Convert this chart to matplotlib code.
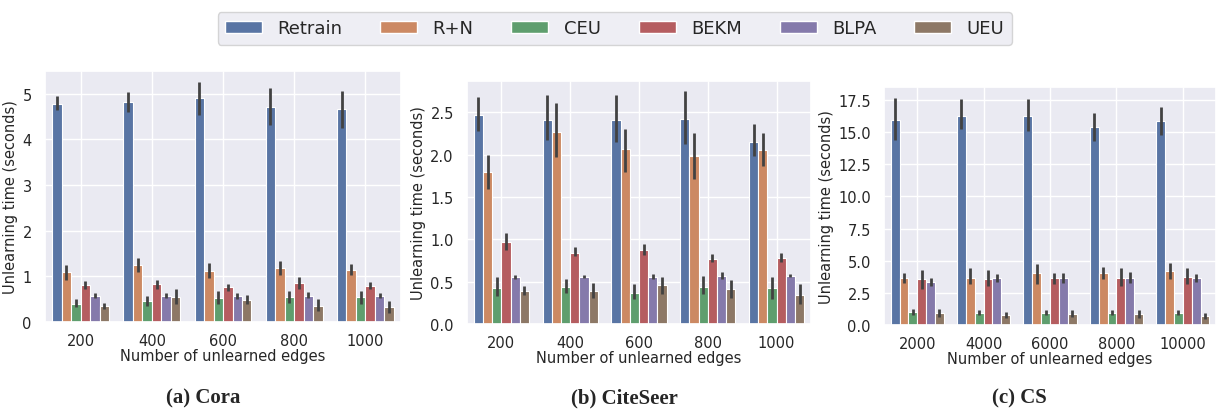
import numpy as np
import matplotlib
matplotlib.use("Agg")
import matplotlib.pyplot as plt
from matplotlib.patches import Patch
import seaborn as sns

sns.set_theme(style="darkgrid")
plt.rcParams['font.family'] = ['DejaVu Sans']

methods = ['Retrain', 'R+N', 'CEU', 'BEKM', 'BLPA', 'UEU']

# Cora: mean time and CI bounds, one row per method
cora_x = ['200', '400', '600', '800', '1000']
cora_mean = [[4.77, 4.81, 4.90, 4.72, 4.66],
             [1.09, 1.24, 1.12, 1.19, 1.15],
             [0.40, 0.45, 0.52, 0.54, 0.54],
             [0.80, 0.83, 0.76, 0.85, 0.79],
             [0.58, 0.58, 0.56, 0.58, 0.58],
             [0.34, 0.54, 0.49, 0.36, 0.33]]
cora_lo = [[4.64, 4.60, 4.54, 4.32, 4.25],
           [0.91, 1.09, 0.97, 1.04, 1.04],
           [0.33, 0.35, 0.39, 0.42, 0.40],
           [0.73, 0.73, 0.68, 0.72, 0.72],
           [0.53, 0.53, 0.50, 0.53, 0.53],
           [0.28, 0.40, 0.39, 0.24, 0.20]]
cora_hi = [[4.95, 5.04, 5.26, 5.13, 5.06],
           [1.24, 1.41, 1.30, 1.34, 1.26],
           [0.51, 0.57, 0.69, 0.68, 0.69],
           [0.89, 0.93, 0.83, 0.98, 0.88],
           [0.64, 0.64, 0.63, 0.66, 0.64],
           [0.42, 0.73, 0.60, 0.50, 0.45]]

# CiteSeer
cite_x = ['200', '400', '600', '800', '1000']
cite_mean = [[2.47, 2.41, 2.41, 2.42, 2.15],
             [1.79, 2.27, 2.07, 1.98, 2.06],
             [0.43, 0.44, 0.37, 0.44, 0.42],
             [0.97, 0.84, 0.87, 0.77, 0.78],
             [0.56, 0.56, 0.56, 0.57, 0.57],
             [0.39, 0.39, 0.46, 0.41, 0.34]]
cite_lo = [[2.28, 2.17, 2.15, 2.13, 1.99],
           [1.59, 1.97, 1.79, 1.71, 1.87],
           [0.33, 0.37, 0.30, 0.35, 0.30],
           [0.87, 0.80, 0.81, 0.73, 0.73],
           [0.53, 0.54, 0.53, 0.53, 0.55],
           [0.34, 0.31, 0.36, 0.31, 0.24]]
cite_hi = [[2.68, 2.70, 2.70, 2.75, 2.36],
           [2.00, 2.61, 2.30, 2.26, 2.26],
           [0.56, 0.53, 0.47, 0.57, 0.55],
           [1.08, 0.91, 0.94, 0.83, 0.84],
           [0.58, 0.58, 0.59, 0.61, 0.59],
           [0.45, 0.48, 0.55, 0.52, 0.47]]

# CS
cs_x = ['2000', '4000', '6000', '8000', '10000']
cs_mean = [[15.94, 16.23, 16.23, 15.37, 15.84],
           [3.63, 3.66, 4.04, 4.04, 4.17],
           [1.01, 0.91, 0.91, 0.91, 0.96],
           [3.55, 3.55, 3.63, 3.63, 3.76],
           [3.32, 3.63, 3.63, 3.68, 3.66],
           [0.91, 0.78, 0.88, 0.83, 0.70]]
cs_lo = [[14.39, 15.22, 15.09, 14.31, 14.78],
         [3.24, 3.16, 3.16, 3.60, 3.55],
         [0.80, 0.75, 0.75, 0.75, 0.75],
         [2.77, 3.03, 3.16, 3.03, 3.16],
         [3.03, 3.34, 3.29, 3.29, 3.34],
         [0.65, 0.57, 0.65, 0.57, 0.49]]
cs_hi = [[17.68, 17.55, 17.55, 16.44, 16.96],
         [4.02, 4.46, 4.72, 4.54, 4.85],
         [1.22, 1.17, 1.14, 1.17, 1.17],
         [4.25, 4.25, 4.07, 4.41, 4.41],
         [3.63, 3.99, 4.02, 4.15, 3.99],
         [1.22, 1.04, 1.17, 1.17, 0.96]]

colors = [sns.desaturate(c, 0.75) for c in sns.color_palette('deep', 6)]

fig = plt.figure(figsize=(12.17, 4.10), dpi=100)


def draw(ax, xlabels, mean, lo, hi, ymax, step):
    mean = np.array(mean)
    lo = np.array(lo)
    hi = np.array(hi)
    n = len(methods)
    w = 0.8 / n
    x = np.arange(len(xlabels))
    for i in range(n):
        xs = x - 0.4 + w * (i + 0.5)
        ax.bar(xs, mean[i], width=w, color=colors[i], edgecolor='white', linewidth=0.8, zorder=2)
        ax.vlines(xs, lo[i], hi[i], color='.26', linewidth=2.0, zorder=3)
    ax.set_xticks(x)
    ax.set_xticklabels(xlabels)
    ax.set_xlim(-0.5, len(xlabels) - 0.5)
    ax.set_ylim(0, ymax)
    ax.yaxis.set_major_locator(plt.MultipleLocator(step))
    ax.tick_params(axis='both', labelsize=10.5)
    ax.tick_params(axis='x', pad=2)
    ax.set_xlabel('Number of unlearned edges', fontsize=10.5, labelpad=0)
    ax.set_ylabel('Unlearning time (seconds)', fontsize=10.5, labelpad=3)


ax1 = fig.add_axes([0.037, 0.2122, 0.2925, 0.6122])
draw(ax1, cora_x, cora_mean, cora_lo, cora_hi, 5.5, 1)
ax2 = fig.add_axes([0.3837, 0.2073, 0.2827, 0.5927])
draw(ax2, cite_x, cite_mean, cite_lo, cite_hi, 2.87, 0.5)
ax3 = fig.add_axes([0.7264, 0.2049, 0.2728, 0.5805])
draw(ax3, cs_x, cs_mean, cs_lo, cs_hi, 18.5, 2.5)

# captions under each panel
for xc, cap in [(0.167, '(a) Cora'), (0.513, '(b) CiteSeer'), (0.838, '(c) CS')]:
    fig.text(xc, 0.016, cap, ha='center', va='baseline', fontsize=15,
             fontweight='bold', family='Liberation Serif')

handles = [Patch(facecolor=c, edgecolor='white', label=m) for c, m in zip(colors, methods)]
fig.legend(handles=handles, loc='upper center', bbox_to_anchor=(0.505, 0.99), ncol=6,
           fontsize=13, handlelength=2.05, handleheight=0.7, handletextpad=0.85,
           columnspacing=2.1, frameon=True, borderpad=0.4)

plt.savefig('out.png', dpi=100)
